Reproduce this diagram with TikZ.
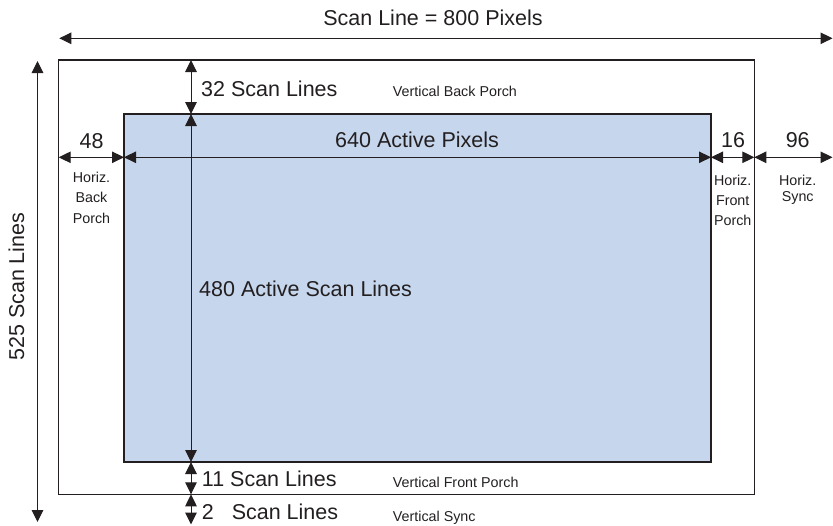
\documentclass[tikz,border=0pt]{standalone}
\usepackage{fontspec}
\setmainfont{Liberation Sans}
\usetikzlibrary{arrows.meta}
\definecolor{activefill}{HTML}{C6D6EC}
\definecolor{ink}{HTML}{231F20}
\begin{document}
\begin{tikzpicture}[x=1pt,y=-1pt,
  big/.style={font=\fontsize{21.5}{24}\selectfont, text=ink, inner sep=0pt},
  small/.style={font=\fontsize{14.3}{20}\selectfont, text=ink, inner sep=0pt},
  frame/.style={draw=ink, line width=1.3pt},
  dim/.style={draw=ink, line width=1pt,
    {Triangle[length=12pt,width=11.5pt]}-{Triangle[length=12pt,width=11.5pt]}}]
\useasboundingbox (0,0) rectangle (833,525);

% frame corners
\coordinate (oTL) at (58.7,60);
\coordinate (oBR) at (754.3,494.3);
\coordinate (iTL) at (124,114);
\coordinate (iBR) at (711,462);

% total frame and active region
\draw[frame] (oTL) rectangle (oBR);
\draw[frame, fill=activefill] (iTL) rectangle (iBR);

% overall dimensions
\coordinate (topL) at (59.3,38.3);
\coordinate (topR) at (832.5,38.3);
\draw[dim] (topL) -- (topR);
\coordinate (leftT) at (37.5,61);
\coordinate (leftB) at (37.5,522);
\draw[dim] (leftT) -- (leftB);

% horizontal timing segments
\coordinate (h0) at (58.7,157.3);
\coordinate (h1) at (124,157.3);
\coordinate (h2) at (711,157.3);
\coordinate (h3) at (754.3,157.3);
\coordinate (h4) at (832.5,157.3);
\draw[dim] (h0) -- (h1);
\draw[dim] (h1) -- (h2);
\draw[dim] (h2) -- (h3);
\draw[dim] (h3) -- (h4);

% vertical timing segments
\coordinate (v0) at (191,60);
\coordinate (v1) at (191,114);
\coordinate (v2) at (191,462);
\coordinate (v3) at (191,494.3);
\coordinate (v4) at (191,524.5);
\draw[dim] (v0) -- (v1);
\draw[dim] (v1) -- (v2);
\draw[dim] (v2) -- (v3);
\draw[dim] (v3) -- (v4);

% labels
\node[big, anchor=base] (title) at (433,25) {Scan Line = 800 Pixels};
\node[big, anchor=base, rotate=90] (total) at (24,286.7) {525 Scan Lines};

\node[big, anchor=base west] (vbpN) at (201,96.7) {32 Scan Lines};
\node[small, anchor=base west] (vbpT) at (392.7,96) {Vertical Back Porch};

\node[big, anchor=base west] (act) at (335,147.7) {640 Active Pixels};
\node[big, anchor=base] (hbpN) at (91.7,148) {48};
\node[big, anchor=base] (hfpN) at (733,147.5) {16};
\node[big, anchor=base] (hsN) at (797.7,147.5) {96};

\node[small, anchor=base] (hbp1) at (91.5,182.7) {Horiz.};
\node[small, anchor=base] (hbp2) at (91.5,202.5) {Back};
\node[small, anchor=base] (hbp3) at (91.5,223) {Porch};

\node[small, anchor=base] (hfp1) at (732.7,185) {Horiz.};
\node[small, anchor=base] (hfp2) at (732.7,205.5) {Front};
\node[small, anchor=base] (hfp3) at (732.7,225.7) {Porch};

\node[small, anchor=base] (hs1) at (797.7,185) {Horiz.};
\node[small, anchor=base] (hs2) at (797.7,201.7) {Sync};

\node[big, anchor=base west] (actv) at (199,296.7) {480 Active Scan Lines};

\node[big, anchor=base west] (vfpN) at (201.7,486.3) {11 Scan Lines};
\node[small, anchor=base west] (vfpT) at (392.7,487.5) {Vertical Front Porch};
\node[big, anchor=base west] (vsN) at (201.7,519.5) {2\phantom{1} Scan Lines};
\node[small, anchor=base west] (vsT) at (392.7,521.5) {Vertical Sync};
\end{tikzpicture}
\end{document}
